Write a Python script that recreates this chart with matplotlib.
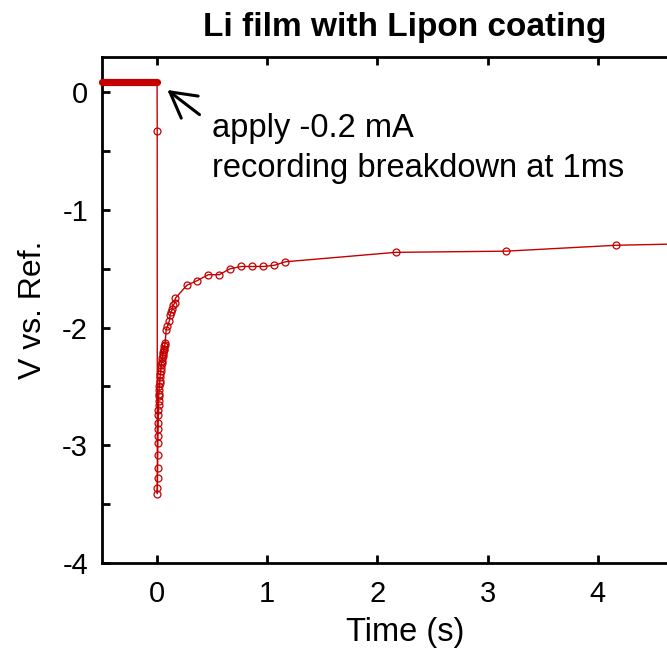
"""Li film with Lipon coating: voltage response to a -0.2 mA pulse."""
import matplotlib
matplotlib.use('Agg')
import matplotlib.pyplot as plt

plt.rcParams['font.family'] = ['Liberation Sans', 'DejaVu Sans']
plt.rcParams['axes.unicode_minus'] = False

# rest period before the current step
rest_t = [-0.5, 0.0]
rest_v = [0.087, 0.087]

# pulse response (s, V)
pulse_t = [0.000, 0.001, 0.002, 0.003, 0.004, 0.005, 0.006, 0.007, 0.008,
           0.009, 0.010, 0.011, 0.012, 0.013, 0.014, 0.015, 0.016,
           0.018, 0.020, 0.022, 0.024, 0.027, 0.030, 0.033, 0.036, 0.039,
           0.042, 0.045, 0.048, 0.051, 0.054, 0.057, 0.060, 0.063, 0.066,
           0.069, 0.073, 0.082, 0.094, 0.112, 0.118, 0.127, 0.139, 0.148,
           0.160, 0.166, 0.27, 0.365, 0.465, 0.565, 0.66, 0.765, 0.865,
           0.965, 1.065, 1.165, 2.165, 3.165, 4.165, 5.165]
pulse_v = [0.087, -0.33, -3.41, -3.36, -3.28, -3.19, -3.08, -2.98, -2.92,
           -2.86, -2.81, -2.74, -2.70, -2.66, -2.62, -2.58, -2.56,
           -2.53, -2.50, -2.47, -2.45, -2.42, -2.39, -2.37, -2.34, -2.32,
           -2.30, -2.28, -2.26, -2.24, -2.22, -2.21, -2.19, -2.18, -2.16,
           -2.15, -2.13, -2.02, -1.99, -1.94, -1.89, -1.87, -1.84, -1.81,
           -1.79, -1.75, -1.64, -1.60, -1.55, -1.55, -1.50, -1.48, -1.48,
           -1.48, -1.47, -1.44, -1.36, -1.35, -1.30, -1.28]

RED = '#c40000'

fig = plt.figure(figsize=(6.67, 6.54), dpi=100)
ax = fig.add_axes([102 / 667, 1 - 563 / 654, 606 / 667, 506 / 654])

# first point sits on the rest line, so no marker there
ax.plot(pulse_t, pulse_v, '-o', color=RED, lw=1.0, ms=5.0, mfc='none',
        mec=RED, mew=0.9, markevery=slice(1, None))
ax.plot(rest_t, rest_v, '-', color=RED, lw=5.2, solid_capstyle='round',
        clip_on=False, zorder=3)

ax.annotate('', xy=(0.073, 0.034), xytext=(0.405, -0.204),
            arrowprops=dict(arrowstyle='->,head_length=0.9,head_width=0.5',
                            color='black', lw=2.2, mutation_scale=20))
ax.text(0.495, -0.382, 'apply -0.2 mA', fontsize=23.5, va='baseline')
ax.text(0.495, -0.72, 'recording breakdown at 1ms', fontsize=23.5,
        va='baseline')

ax.set_xlim(-0.5, 5.0)
ax.set_ylim(-4, 0.3)
ax.set_xticks([0, 1, 2, 3, 4])
ax.set_yticks([-4, -3, -2, -1, 0])
ax.set_yticks([-3.5, -2.5, -1.5, -0.5], minor=True)

for s in ax.spines.values():
    s.set_linewidth(2.0)
ax.tick_params(which='both', direction='in', length=6, width=2.0,
               top=True, right=True, labelsize=21)
ax.tick_params(axis='x', pad=12)
ax.tick_params(axis='y', pad=10)

ax.set_xlabel('Time (s)', fontsize=23.5, labelpad=7)
ax.set_ylabel('V vs. Ref.', fontsize=23, labelpad=10)
ax.set_title('Li film with Lipon coating', fontsize=24, fontweight='bold',
             pad=15)

fig.savefig('out.png', dpi=100)
